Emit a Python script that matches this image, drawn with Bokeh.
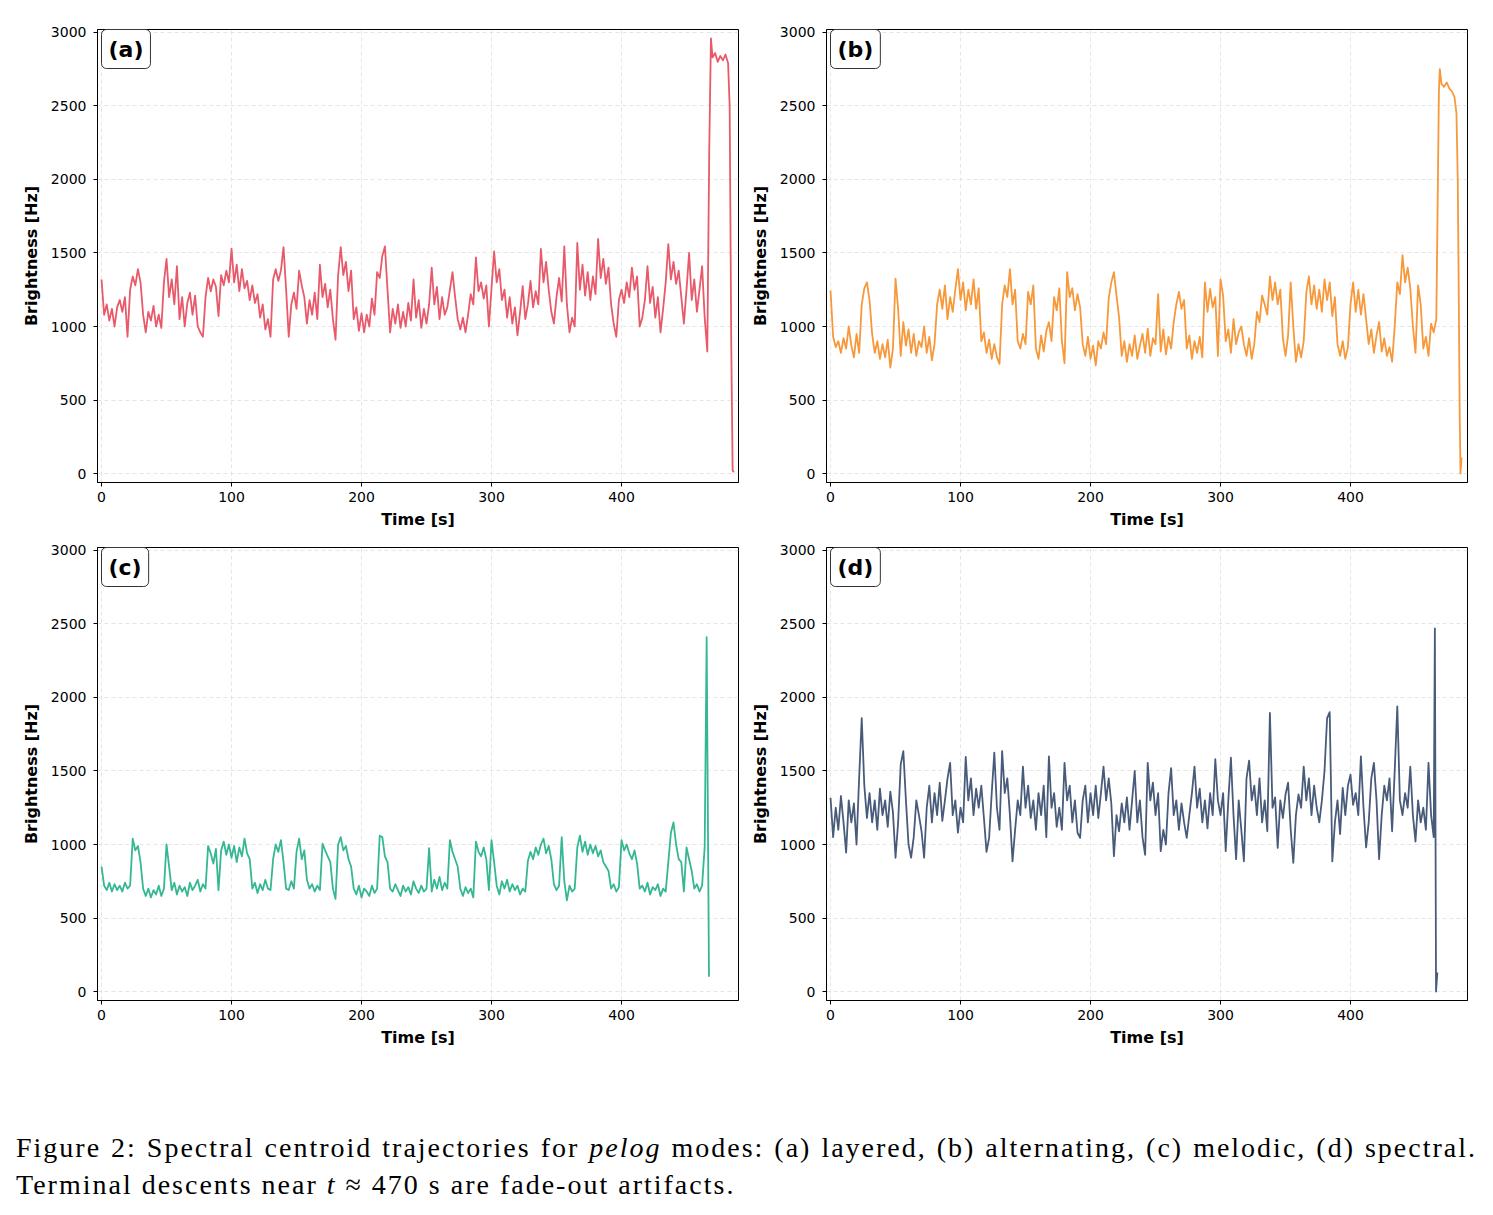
from bokeh.plotting import figure
from bokeh.models import Range1d, Label, Div, FixedTicker
from bokeh.layouts import column, row
from bokeh.embed import file_html
from bokeh.resources import INLINE

# Spectral centroid (Hz), sampled every 2 s from t = 0
layered = [
    1320, 1080, 1150, 1040, 1120, 1000, 1130, 1180, 1100, 1200,
    930, 1250, 1340, 1280, 1390, 1300, 1080, 960, 1100, 1040,
    1140, 1000, 1080, 990, 1300, 1460, 1200, 1320, 1150, 1410,
    1050, 1200, 1000, 1160, 1230, 1080, 1210, 1000, 960, 930,
    1200, 1330, 1240, 1320, 1270, 1070, 1350, 1280, 1380, 1300,
    1530, 1300, 1420, 1240, 1390, 1260, 1310, 1180, 1280, 1160,
    1220, 1060, 1150, 980, 1050, 930, 1320, 1390, 1310, 1380,
    1540, 1250, 930, 1150, 1230, 1120, 1380, 1280, 1200, 1020,
    1180, 1080, 1230, 1050, 1420, 1200, 1290, 1130, 1250, 1050,
    910, 1350, 1540, 1350, 1440, 1240, 1380, 1050, 1130, 970,
    1090, 960, 1080, 1000, 1190, 1080, 1370, 1330, 1480, 1545,
    1250, 960, 1120, 1020, 1150, 990, 1100, 1000, 1160, 1040,
    1320, 1060, 1180, 990, 1120, 1020, 1150, 1400, 1150, 1270,
    1050, 1200, 1080, 1130, 1250, 1370, 1200, 1050, 980, 1060,
    960, 1080, 1220, 1150, 1470, 1240, 1300, 1190, 1280, 1000,
    1260, 1510, 1300, 1390, 1180, 1250, 1060, 1200, 1020, 1130,
    940, 1100, 1275, 1050, 1150, 1310, 1130, 1240, 1150, 1527,
    1300, 1440, 1250, 1100, 1020, 1200, 1330, 1170, 1545, 1150,
    960, 1060, 1000, 1568, 1250, 1420, 1210, 1370, 1180, 1340,
    1220, 1595, 1330, 1460, 1290, 1400, 1150, 1020, 930, 1180,
    1250, 1160, 1300, 1200, 1400, 1250, 1340, 1000, 1060, 1180,
    1410, 1160, 1270, 1060, 1200, 960, 1120, 1300, 1560, 1320,
    1440, 1290, 1380, 1200, 1020, 1250, 1500, 1180, 1320, 1100,
    1250, 1410, 1060, 830,
]
alternating = [
    1245, 930, 860, 900, 820, 920, 850, 1000, 870, 790,
    950, 820, 1150, 1260, 1300, 1180, 950, 820, 900, 780,
    880, 790, 910, 720, 850, 1325, 1120, 800, 1030, 870,
    980, 820, 950, 800, 900, 860, 1000, 820, 930, 770,
    880, 1150, 1250, 1120, 1280, 1050, 1200, 1100, 1250, 1390,
    1180, 1300, 1110, 1250, 1150, 1320, 1120, 1260, 900, 960,
    820, 910, 780, 880, 790, 745, 1150, 1280, 1200, 1390,
    1150, 1250, 900, 850, 950, 880, 1235, 1150, 1280, 850,
    780, 940, 830, 970, 1030, 900, 1200, 1110, 1260, 900,
    750, 1370, 1200, 1260, 1110, 1220, 1130, 880, 800, 930,
    780, 870, 735, 900, 850, 960, 880, 1190, 1300, 1370,
    1210, 1060, 800, 900, 760, 880, 800, 940, 780, 870,
    950, 820, 985, 800, 920, 880, 1220, 830, 980, 810,
    930, 850, 1030, 1150, 1235, 1120, 1180, 850, 940, 780,
    900, 820, 930, 790, 1300, 1100, 1255, 1130, 1200, 800,
    1320, 1210, 900, 980, 820, 1050, 880, 960, 1000, 880,
    800, 920, 780, 880, 1100, 1030, 1210, 1150, 1080, 1340,
    1180, 1300, 1150, 1250, 920, 800, 940, 1300, 1000, 760,
    880, 790, 900, 1230, 1340, 1150, 1280, 1120, 1250, 1100,
    1320, 1180, 1300, 1070, 1200, 880, 800, 900, 780, 860,
    1150, 1300, 1100, 1250, 1080, 1220, 1050, 880, 980, 820,
    940, 1030, 830, 920, 800, 860, 760, 1000, 1300, 1220,
    1485, 1300, 1400, 1260, 1000, 820, 1280, 1150, 850, 930,
    800, 1020, 960, 1050,
]
melodic = [
    850, 720, 690, 740, 680, 730, 690, 720, 680, 740,
    700, 720, 1040, 960, 990, 880, 700, 650, 700, 640,
    690, 660, 720, 650, 700, 1000, 850, 690, 740, 660,
    720, 680, 710, 650, 740, 690, 720, 760, 680, 730,
    700, 990, 940, 870, 970, 690, 960, 1020, 930, 1000,
    910, 990, 880, 980, 920, 1040, 940, 900, 700, 740,
    670, 730, 690, 760, 700, 690, 900, 1000, 950, 1030,
    880, 700, 690, 750, 700, 950, 1040, 900, 960, 760,
    700, 730, 680, 720, 690, 1005, 960, 920, 880, 700,
    630, 1000, 1050, 960, 990, 900, 850, 700, 660, 720,
    640, 700, 680, 650, 720, 670, 700, 1060, 1050, 920,
    880, 700, 680, 730, 690, 650, 720, 680, 710, 660,
    750, 700, 670, 720, 680, 700, 975, 680, 760, 700,
    780, 690, 740, 700, 1030, 950, 900, 850, 700, 650,
    710, 670, 700, 640, 1020, 950, 920, 980, 900, 690,
    1030, 880, 720, 660, 750, 700, 760, 680, 730, 690,
    720, 660, 700, 680, 890, 950, 900, 980, 930, 1000,
    1040, 940, 990, 900, 730, 690, 720, 1050, 750, 620,
    720, 680, 700, 980, 1060, 950, 1020, 930, 1000, 940,
    990, 920, 960, 880, 850, 820, 700, 730, 680, 710,
    1030, 960, 1000, 940, 900, 960, 870, 700, 720, 680,
    740, 660, 710, 690, 730, 650, 700, 680, 880, 1080,
    1150, 1000, 900, 880, 680, 980, 900, 820, 700, 730,
    680, 720, 985,
]
spectral = [
    1318, 1050, 1250, 1100, 1330, 1150, 945, 1300, 1150, 1280,
    1000, 1450, 1860, 1400, 1180, 1350, 1150, 1300, 1100, 1380,
    1200, 1300, 1120, 1360, 1220, 910, 1150, 1545, 1635, 1300,
    1000, 910, 1050, 1300, 1200, 1090, 910, 1250, 1400, 1150,
    1350, 1200, 1420, 1160, 1300, 1450, 1555, 1200, 1300, 1080,
    1250, 1150, 1595, 1300, 1450, 1200, 1380, 1250, 1400, 1180,
    950, 1045, 1350, 1625, 1250, 1100, 1635, 1350, 1450, 1200,
    885, 1100, 1300, 1200, 1530, 1250, 1400, 1180, 1300, 1100,
    1350, 1200, 1400, 1050, 1600, 1250, 1350, 1120, 1250, 1100,
    1555, 1300, 1400, 1150, 1300, 1080, 1045, 1300, 1400, 1150,
    1350, 1200, 1400, 1180, 1350, 1530, 1300, 1450, 1280, 920,
    1200, 1090, 1280, 1150, 1320, 1100, 1300, 1500, 1150, 1300,
    1050, 930, 1555, 1300, 1420, 1200, 1350, 955, 1100, 1000,
    1350, 1520, 1200, 1300, 1100, 1280, 1150, 1045, 1200, 1350,
    1530, 1250, 1380, 1150, 1300, 1110, 1350, 1200, 1580, 1300,
    1200, 1350, 955, 1300, 1590, 1200, 900, 1300, 1100, 885,
    1450, 1570, 1300, 1400, 1200, 1450, 1150, 1300, 1090, 1895,
    1250, 1320, 977, 1300, 1180, 1340, 1420, 1100, 875, 1200,
    1340, 1250, 1530, 1300, 1450, 1200, 1400, 1250, 1150, 1300,
    1500, 1860, 1900, 885, 1150, 1300, 1070, 1385, 1200, 1400,
    1475, 1270, 1350, 1200, 1600, 1250, 980, 1150, 1450, 1555,
    1300, 900, 1200, 1400, 1300, 1450, 1090, 1500, 1940, 1300,
    1200, 1350, 1250, 1530, 1200, 1020, 1300, 1150, 1250, 1100,
    1555, 1200, 1050,
]

# Fade-out segments at the end of each run (time s, centroid Hz)
layered_end_t = [467.5, 468.8, 470, 472, 474, 476, 478, 480, 482, 483.2, 484.4, 485.5, 486.5]
layered_end_v = [2200, 2960, 2830, 2860, 2800, 2840, 2810, 2850, 2790, 2500, 900, 20, 10]
alternating_end_t = [467, 468, 468.7, 470, 472, 474, 476, 478, 480, 481.5, 482.5, 483.3, 484, 484.6, 485.4]
alternating_end_v = [1800, 2600, 2750, 2650, 2630, 2660, 2620, 2600, 2560, 2450, 2000, 1200, 400, 0, 110]
melodic_end_t = [465.5, 467.3]
melodic_end_v = [2410, 100]
spectral_end_t = [464.9, 465.8, 466.8]
spectral_end_v = [2470, 0, 130]

x_ticks = [0, 100, 200, 300, 400]
y_ticks = [0, 500, 1000, 1500, 2000, 2500, 3000]

FRAME_W, FRAME_H = 641, 453
FONT = "DejaVu Sans"


def panel(vals, end_t, end_v, color, tag, left, right, top, bottom):
    t = [2 * i for i in range(len(vals))] + list(end_t)
    y = list(vals) + list(end_v)
    p = figure(frame_width=FRAME_W, frame_height=FRAME_H,
               x_range=Range1d(-3.1, 490), y_range=Range1d(-61, 3020),
               output_backend="svg", toolbar_location=None,
               min_border_left=left, min_border_right=right,
               min_border_top=top, min_border_bottom=bottom)
    p.line(t, y, line_color=color, line_width=1.8, line_join="round")

    p.xaxis.ticker = FixedTicker(ticks=x_ticks)
    p.yaxis.ticker = FixedTicker(ticks=y_ticks)
    p.xaxis.axis_label = "Time [s]"
    p.yaxis.axis_label = "Brightness [Hz]"
    for ax in (p.xaxis[0], p.yaxis[0]):
        ax.axis_label_text_font = FONT
        ax.axis_label_text_font_style = "bold"
        ax.axis_label_text_font_size = "16px"
        ax.axis_label_text_color = "black"
        ax.major_label_text_font = FONT
        ax.major_label_text_font_size = "14px"
        ax.major_label_text_color = "black"
        ax.major_tick_out = 4
        ax.major_tick_in = 0
        ax.minor_tick_out = 0
        ax.minor_tick_in = 0
        ax.axis_line_color = "black"
        ax.major_tick_line_color = "black"
    p.xaxis.major_label_standoff = 5
    p.xaxis.axis_label_standoff = 5
    p.yaxis.major_label_standoff = 7
    p.yaxis.axis_label_standoff = 7

    p.grid.grid_line_color = "#dcdcdc"
    p.grid.grid_line_dash = "4 3"
    p.grid.grid_line_alpha = 0.7
    p.outline_line_color = "black"
    p.outline_line_width = 1
    p.background_fill_color = "white"
    p.border_fill_color = "white"

    p.add_layout(Label(x=4, y=FRAME_H, x_units="screen", y_units="screen",
                       text=tag, text_font=FONT, text_font_style="bold",
                       text_font_size="22px", text_color="black",
                       text_align="left", text_baseline="top",
                       background_fill_color="white",
                       border_line_color="#333333", border_line_width=1,
                       padding=7, border_radius=5))
    return p


pa = panel(layered, layered_end_t, layered_end_v, "#E8596A", "(a)", 97, 8, 29, 53)
pb = panel(alternating, alternating_end_t, alternating_end_v, "#F7983A", "(b)", 80, 26, 29, 53)
pc = panel(melodic, melodic_end_t, melodic_end_v, "#35B794", "(c)", 97, 8, 12, 60)
pd = panel(spectral, spectral_end_t, spectral_end_v, "#485B7B", "(d)", 80, 26, 12, 60)

caption = Div(
    text=('<div style="width:1461px;text-align:justify;text-align-last:justify;">'
          'Figure 2: Spectral centroid trajectories for <i>pelog</i> modes: '
          '(a) layered, (b) alternating, (c) melodic, (d) spectral.</div>'
          '<div style="width:1461px;">Terminal descents near <i>t</i> &asymp; 470 s '
          'are fade-out artifacts.</div>'),
    width=1461, margin=(69, 16, 0, 16),
    styles={"font-family": "'Liberation Serif', serif", "font-size": "28px",
            "line-height": "37px", "letter-spacing": "2px", "color": "black"},
)

layout = column(row(pa, pb), row(pc, pd), caption)
open("out.html", "w").write(file_html(layout, INLINE))
